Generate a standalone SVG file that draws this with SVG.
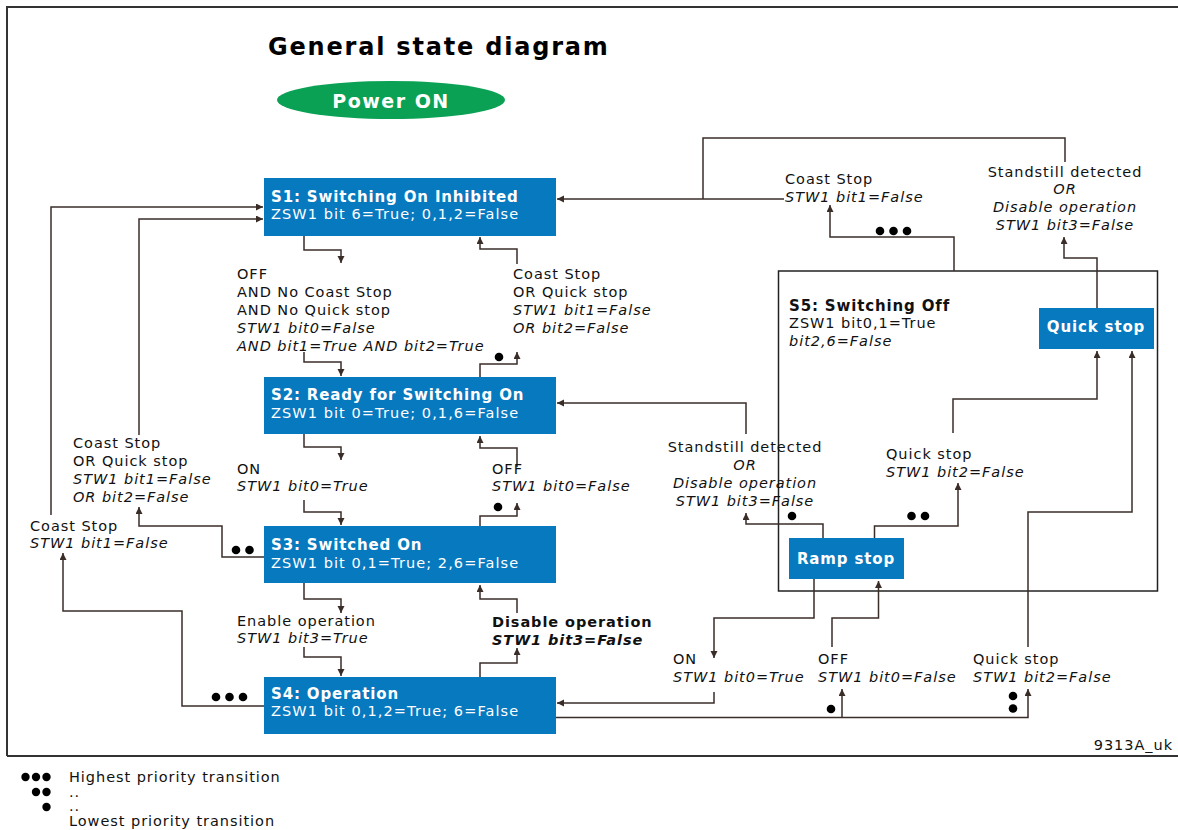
<svg xmlns="http://www.w3.org/2000/svg" width="1178" height="830" viewBox="0 0 1178 830">
<defs>
<style>
text{font-family:"DejaVu Sans","Liberation Sans",sans-serif;}
.t{font-size:14.5px;letter-spacing:0.95px;fill:#111;}
.i{font-size:14.5px;letter-spacing:0.95px;fill:#111;font-style:italic;}
.b{font-size:14.5px;letter-spacing:0.92px;fill:#111;font-weight:bold;}
.bi{font-size:14.5px;letter-spacing:0.92px;fill:#111;font-weight:bold;font-style:italic;}
.bt{font-size:15px;letter-spacing:0.85px;fill:#fff;font-weight:bold;}
.bs{font-size:14.5px;letter-spacing:1.08px;fill:#fff;}
.box{fill:#0779bf;}
.c{fill:none;stroke:#3a2d28;stroke-width:1.5;}
.a{marker-end:url(#ah);}
.d{fill:#000;}
.m{text-anchor:middle;}
</style>
<marker id="ah" markerWidth="8" markerHeight="8" refX="7" refY="3.5" orient="auto" markerUnits="userSpaceOnUse">
<path d="M0,0 L7,3.5 L0,7 z" fill="#3a2d28"/>
</marker>
</defs>
<rect x="0" y="0" width="1178" height="830" fill="#fff"/>
<path d="M7,756 V7 H1178 M7,756 H1178" fill="none" stroke="#333" stroke-width="2"/>

<g id="title">
<text x="268" y="55" style="font-size:24px;font-weight:bold;letter-spacing:1.8px;fill:#000">General state diagram</text>
</g>
<g id="power-on">
<ellipse cx="391" cy="100" rx="114" ry="19" fill="#0aa154"/>
<text x="391" y="108" class="m" style="font-size:19px;font-weight:bold;letter-spacing:1.5px;fill:#fff">Power ON</text>
</g>

<g id="s5">
<rect x="778.5" y="271" width="379" height="320" fill="none" stroke="#222" stroke-width="1.5"/>
<text x="789" y="311" class="bt" style="fill:#111">S5: Switching Off</text>
<text x="789" y="328" class="t">ZSW1 bit0,1=True</text>
<text x="789" y="346" class="i">bit2,6=False</text>
</g>

<g id="s1">
<rect class="box" x="264" y="178" width="292" height="58"/>
<text x="271" y="202" class="bt">S1: Switching On Inhibited</text>
<text x="271" y="219" class="bs">ZSW1 bit 6=True; 0,1,2=False</text>
</g>
<g id="s2">
<rect class="box" x="264" y="377" width="292" height="57"/>
<text x="271" y="400" class="bt">S2: Ready for Switching On</text>
<text x="271" y="418" class="bs">ZSW1 bit 0=True; 0,1,6=False</text>
</g>
<g id="s3">
<rect class="box" x="264" y="526" width="292" height="57"/>
<text x="271" y="550" class="bt">S3: Switched On</text>
<text x="271" y="568" class="bs">ZSW1 bit 0,1=True; 2,6=False</text>
</g>
<g id="s4">
<rect class="box" x="264" y="677" width="292" height="57"/>
<text x="271" y="699" class="bt">S4: Operation</text>
<text x="271" y="716" class="bs">ZSW1 bit 0,1,2=True; 6=False</text>
</g>
<g id="quick-stop">
<rect class="box" x="1039" y="308" width="115" height="41"/>
<text x="1096" y="332" class="bt m">Quick stop</text>
</g>
<g id="ramp-stop">
<rect class="box" x="789" y="538" width="115" height="41"/>
<text x="846" y="564" class="bt m">Ramp stop</text>
</g>

<g id="connectors">
<path class="c a" d="M304,236 V250 H341 V263"/>
<path class="c a" d="M304,352 V362 H341 V376"/>
<path class="c a" d="M480,377 V364 H517 V352"/>
<path class="c a" d="M517,264 V249 H480 V237"/>
<path class="c a" d="M304,434 V447 H341 V460"/>
<path class="c a" d="M304,500 V512 H341 V525"/>
<path class="c a" d="M480,526 V516 H517 V503"/>
<path class="c a" d="M517,467 V448 H480 V436"/>
<path class="c a" d="M304,583 V599 H341 V613"/>
<path class="c a" d="M304,647 V657 H341 V676"/>
<path class="c a" d="M480,677 V663 H517 V648"/>
<path class="c a" d="M517,613 V599 H480 V585"/>
<path class="c a" d="M264,557 H222 V526 H139 V507"/>
<path class="c a" d="M139,435 V219 H263"/>
<path class="c a" d="M264,706 H182 V611 H63 V553"/>
<path class="c a" d="M51,515 V207 H263"/>
<path class="c a" d="M784,199 H557"/>
<path class="c" d="M703,199 V138 H1065 V162"/>
<path class="c a" d="M954,271 V237 H830 V205"/>
<path class="c a" d="M1097,308 V258 H1064 V237"/>
<path class="c a" d="M746,434 V403 H557"/>
<path class="c a" d="M823,538 V524 H746 V513"/>
<path class="c a" d="M874.5,538 V526 H958 V483"/>
<path class="c a" d="M953,433 V399 H1097 V351"/>
<path class="c a" d="M814,579 V618 H714 V658"/>
<path class="c a" d="M714,692 V703 H557"/>
<path class="c a" d="M556,717.5 H1028 V689"/>
<path class="c a" d="M842,717.5 V689"/>
<path class="c a" d="M832,647 V618 H878.5 V581"/>
<path class="c a" d="M1028,647 V512 H1132 V351"/>
<circle class="d" cx="499" cy="357" r="4.3"/>
<circle class="d" cx="498" cy="507" r="4.3"/>
<circle class="d" cx="236" cy="550" r="4.3"/>
<circle class="d" cx="249.5" cy="550" r="4.3"/>
<circle class="d" cx="216" cy="697" r="4.3"/>
<circle class="d" cx="229.5" cy="697" r="4.3"/>
<circle class="d" cx="243" cy="697" r="4.3"/>
<circle class="d" cx="880" cy="231" r="4.3"/>
<circle class="d" cx="893.5" cy="231" r="4.3"/>
<circle class="d" cx="907" cy="231" r="4.3"/>
<circle class="d" cx="792" cy="516" r="4.3"/>
<circle class="d" cx="911.5" cy="516" r="4.3"/>
<circle class="d" cx="925" cy="516" r="4.3"/>
<circle class="d" cx="831" cy="709" r="4.3"/>
<circle class="d" cx="1013" cy="696" r="4.3"/>
<circle class="d" cx="1013" cy="708.5" r="4.3"/>
</g>

<g id="labels">
<text x="237" y="279" class="t">OFF</text>
<text x="237" y="297" class="t">AND No Coast Stop</text>
<text x="237" y="315" class="t">AND No Quick stop</text>
<text x="237" y="333" class="i">STW1 bit0=False</text>
<text x="237" y="351" class="i">AND bit1=True AND bit2=True</text>

<text x="513" y="279" class="t">Coast Stop</text>
<text x="513" y="297" class="t">OR Quick stop</text>
<text x="513" y="315" class="i">STW1 bit1=False</text>
<text x="513" y="333" class="i">OR bit2=False</text>

<text x="237" y="474" class="t">ON</text>
<text x="237" y="491" class="i">STW1 bit0=True</text>
<text x="492" y="474" class="t">OFF</text>
<text x="492" y="491" class="i">STW1 bit0=False</text>

<text x="237" y="626" class="t">Enable operation</text>
<text x="237" y="643" class="i">STW1 bit3=True</text>
<text x="492" y="627" class="b">Disable operation</text>
<text x="492" y="645" class="bi">STW1 bit3=False</text>

<text x="73" y="448" class="t">Coast Stop</text>
<text x="73" y="466" class="t">OR Quick stop</text>
<text x="73" y="484" class="i">STW1 bit1=False</text>
<text x="73" y="502" class="i">OR bit2=False</text>

<text x="30" y="531" class="t">Coast Stop</text>
<text x="30" y="548" class="i">STW1 bit1=False</text>

<text x="785" y="184" class="t">Coast Stop</text>
<text x="785" y="202" class="i">STW1 bit1=False</text>

<text x="1065" y="177" class="t m">Standstill detected</text>
<text x="1065" y="194" class="i m">OR</text>
<text x="1065" y="212" class="i m">Disable operation</text>
<text x="1065" y="230" class="i m">STW1 bit3=False</text>

<text x="745" y="452" class="t m">Standstill detected</text>
<text x="745" y="469.5" class="i m">OR</text>
<text x="745" y="487.5" class="i m">Disable operation</text>
<text x="745" y="505.5" class="i m">STW1 bit3=False</text>

<text x="886" y="459" class="t">Quick stop</text>
<text x="886" y="477" class="i">STW1 bit2=False</text>

<text x="673" y="664" class="t">ON</text>
<text x="673" y="682" class="i">STW1 bit0=True</text>
<text x="818" y="664" class="t">OFF</text>
<text x="818" y="682" class="i">STW1 bit0=False</text>
<text x="973" y="664" class="t">Quick stop</text>
<text x="973" y="682" class="i">STW1 bit2=False</text>

<text x="1173" y="750" class="t" style="text-anchor:end">9313A_uk</text>
</g>

<g id="legend">
<circle class="d" cx="25.5" cy="777" r="4.2"/>
<circle class="d" cx="36" cy="777" r="4.2"/>
<circle class="d" cx="46.5" cy="777" r="4.2"/>
<circle class="d" cx="36" cy="792" r="4.2"/>
<circle class="d" cx="46.5" cy="792" r="4.2"/>
<circle class="d" cx="46.5" cy="807" r="4.2"/>
<text x="69" y="782" class="t">Highest priority transition</text>
<text x="69" y="797" class="t">..</text>
<text x="69" y="811" class="t">..</text>
<text x="69" y="826" class="t">Lowest priority transition</text>
</g>
</svg>
